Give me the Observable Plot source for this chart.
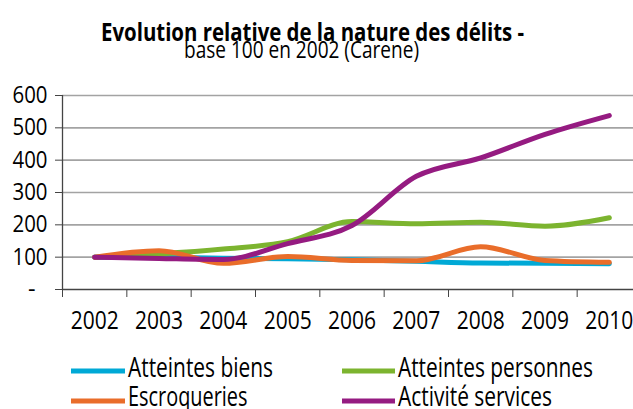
<!DOCTYPE html>
<html><head><meta charset="utf-8">
<script src="https://cdn.jsdelivr.net/npm/d3@7"></script>
<script src="https://cdn.jsdelivr.net/npm/@observablehq/plot@0.6"></script>
<style>
body{margin:0;background:#fff;width:633px;height:409px;overflow:hidden;position:relative;font-family:'Open Sans',sans-serif;color:#000}
#chart{position:absolute;left:0;top:75px}
#overlay{position:absolute;left:0;top:0;pointer-events:none}
</style></head><body>
<div id="chart"></div>
<svg id="overlay" width="633" height="409"></svg>
<script>
const years = [2002, 2003, 2004, 2005, 2006, 2007, 2008, 2009, 2010];
const seriesNames = ["Atteintes biens", "Atteintes personnes", "Escroqueries", "Activité services"];
const seriesColors = ["#00a9d6", "#7cb42f", "#e96d2a", "#951b81"];
const atteintesBiens = [100, 99, 97, 95, 92, 87, 82, 81, 80];
const atteintesPersonnes = [100, 110, 125, 148, 210, 203, 208, 196, 222];
const escroqueries = [100, 120, 81, 102, 90, 89, 132, 90, 84];
const activiteServices = [100, 96, 93, 142, 198, 350, 407, 480, 538];
const yTicks = [0, 100, 200, 300, 400, 500, 600];
const titleText = "Evolution relative de la nature des délits -";
const subtitleText = "base 100 en 2002 (Carene)";

const FONT = "'Open Sans', sans-serif";
const seriesValues = [atteintesBiens, atteintesPersonnes, escroqueries, activiteServices];
const boundaries = years.map(y => y - 0.5).concat([years[years.length - 1] + 0.5]);

const lineMarks = seriesValues.map((vals, i) =>
  Plot.line(years.map((y, j) => ({year: y, value: vals[j]})), {
    x: "year", y: "value", stroke: seriesColors[i], strokeWidth: 5,
    curve: "monotone-x", strokeLinecap: "round", strokeLinejoin: "round"
  })
);

const plot = Plot.plot({
  width: 633,
  height: 270,
  marginTop: 20,
  marginBottom: 56,
  marginLeft: 62,
  marginRight: 0,
  style: {fontFamily: FONT, background: "transparent", color: "#000"},
  x: {type: "linear", domain: [2001.5, 2010.5], range: [62, 641]},
  y: {domain: [0, 600], range: [214, 20]},
  marks: [
    Plot.ruleY(yTicks.filter(d => d > 0), {stroke: "#a3a3a3", strokeWidth: 1.6}),
    Plot.ruleY([0], {stroke: "#444", strokeWidth: 1.3}),
    Plot.ruleX([2001.5], {y1: 0, y2: 600, stroke: "#444", strokeWidth: 1.3}),
    Plot.axisY({ticks: yTicks.filter(d => d > 0), tickSize: 7, tickPadding: 8, fontSize: 23.5, stroke: "#444", label: null, tickFormat: d => String(d)}),
    Plot.axisY({ticks: [0], tickSize: 7, tickPadding: 20, fontSize: 23.5, stroke: "#444", label: null, tickFormat: () => "-"}),
    Plot.axisX({ticks: boundaries, tickSize: 8, tickFormat: () => "", stroke: "#444", label: null}),
    Plot.axisX({ticks: years, tickSize: 0, tickPadding: 20.9, fontSize: 25.5, label: null, tickFormat: d => String(d)}),
    ...lineMarks
  ]
});
document.getElementById("chart").appendChild(plot);

// condense the tick labels (the reference uses a condensed face)
d3.select(plot).selectAll("text").each(function() {
  const s = this.textContent;
  if (/^\d{4}$/.test(s)) { this.setAttribute("textLength", 48); this.setAttribute("lengthAdjust", "spacingAndGlyphs"); }
  else if (/^\d{3}$/.test(s)) { this.setAttribute("textLength", 35); this.setAttribute("lengthAdjust", "spacingAndGlyphs"); }
});

// title, subtitle, legend
const ov = d3.select("#overlay").style("font-family", FONT);
ov.append("text").attr("x", 312.5).attr("y", 40.5).attr("text-anchor", "middle")
  .attr("font-size", 25).attr("font-weight", "bold")
  .attr("textLength", 423).attr("lengthAdjust", "spacingAndGlyphs").text(titleText);
ov.append("text").attr("x", 301.5).attr("y", 58).attr("text-anchor", "middle")
  .attr("font-size", 23.5)
  .attr("textLength", 235).attr("lengthAdjust", "spacingAndGlyphs").text(subtitleText);

const legendPos = [
  {x1: 71, x2: 125, tx: 128, sy: 371, ty: 377, w: 145},
  {x1: 342, x2: 395, tx: 398, sy: 371, ty: 377, w: 195},
  {x1: 71, x2: 125, tx: 128, sy: 401, ty: 406, w: 119.5},
  {x1: 342, x2: 395, tx: 398, sy: 401, ty: 406, w: 154}
];
seriesNames.forEach((name, i) => {
  const p = legendPos[i];
  ov.append("line").attr("x1", p.x1).attr("x2", p.x2).attr("y1", p.sy).attr("y2", p.sy)
    .attr("stroke", seriesColors[i]).attr("stroke-width", 5);
  ov.append("text").attr("x", p.tx).attr("y", p.ty).attr("font-size", 28)
    .attr("textLength", p.w).attr("lengthAdjust", "spacingAndGlyphs").text(name);
});
</script>
</body></html>
